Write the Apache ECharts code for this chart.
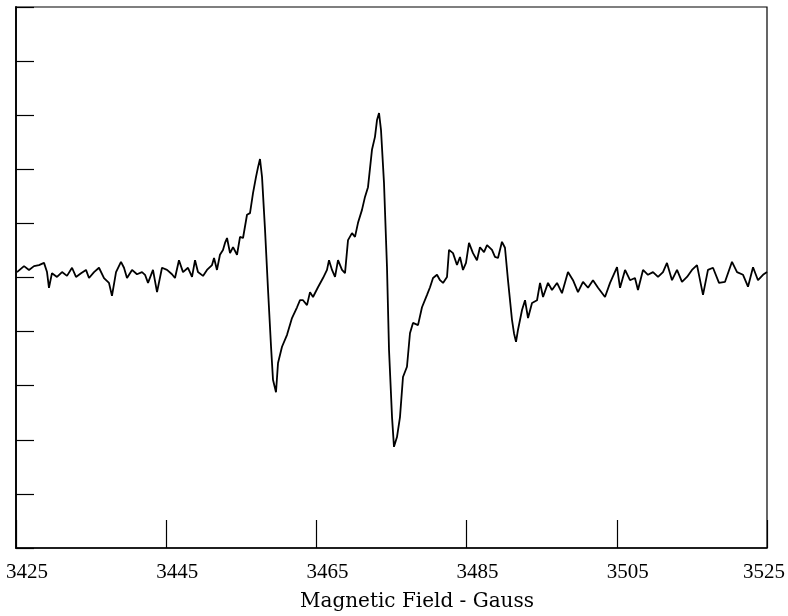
<!DOCTYPE html>
<html>
<head>
<meta charset="utf-8">
<script src="https://cdn.jsdelivr.net/npm/echarts@6/dist/echarts.min.js"></script>
<style>html,body{margin:0;padding:0;background:#fff}#c{width:788px;height:616px}</style>
</head>
<body>
<div id="c"></div>
<script>
// Magnetic field (Gauss)
const field = [3425.13,3426.07,3426.73,3427.40,3428.06,3428.73,3429.13,3429.39,3429.79,3430.46,3431.13,3431.79,3432.46,3432.99,3433.66,3434.32,3434.72,3435.39,3436.05,3436.72,3437.38,3437.78,3438.32,3438.98,3439.38,3439.78,3440.45,3441.11,3441.78,3442.18,3442.58,3443.24,3443.78,3444.44,3445.11,3445.77,3446.17,3446.70,3447.24,3447.90,3448.44,3448.84,3449.23,3449.90,3450.43,3451.10,3451.37,3451.76,3452.16,3452.56,3452.83,3453.10,3453.50,3453.90,3454.43,3454.83,3455.23,3455.76,3456.16,3456.56,3456.96,3457.23,3457.49,3457.76,3458.16,3458.56,3458.96,3459.22,3459.62,3459.89,3460.42,3461.09,3461.75,3462.42,3462.82,3463.22,3463.75,3464.15,3464.55,3465.21,3465.88,3466.41,3466.68,3467.08,3467.48,3467.88,3468.41,3468.81,3469.21,3469.74,3470.14,3470.54,3471.07,3471.47,3471.87,3472.40,3472.80,3473.07,3473.34,3473.60,3474.00,3474.40,3474.67,3475.07,3475.33,3475.73,3476.13,3476.53,3477.06,3477.46,3477.86,3478.53,3479.06,3479.73,3480.13,3480.53,3481.06,3481.46,3481.86,3482.39,3482.66,3483.19,3483.72,3484.12,3484.52,3484.92,3485.32,3485.85,3486.38,3486.78,3487.32,3487.72,3488.38,3488.78,3489.18,3489.71,3490.11,3490.51,3491.05,3491.31,3491.58,3491.84,3492.38,3492.78,3493.18,3493.71,3494.38,3494.78,3495.18,3495.84,3496.37,3497.04,3497.70,3498.50,3499.17,3499.83,3500.50,3501.17,3501.83,3502.50,3503.43,3504.10,3505.03,3505.43,3506.10,3506.76,3507.42,3507.82,3508.49,3509.15,3509.82,3510.49,3511.15,3511.68,3512.35,3513.02,3513.68,3514.35,3515.01,3515.68,3516.48,3517.14,3517.81,3518.61,3519.41,3520.34,3521.01,3521.81,3522.47,3523.14,3523.80,3524.47,3525.00];
// EPR signal (arbitrary units)
const signal = [1.0,2.1,1.4,2.1,2.3,2.7,1.0,-1.9,0.8,0.1,1.0,0.3,1.8,0.1,0.8,1.4,-0.1,1.0,1.8,-0.1,-1.0,-3.4,1.0,2.9,1.8,-0.1,1.4,0.6,1.0,0.5,-1.0,1.4,-2.7,1.8,1.4,0.6,-0.1,3.2,1.0,1.8,0.1,3.2,1.0,0.3,1.4,2.3,3.6,1.4,4.2,5.1,6.4,7.3,4.5,5.6,4.2,7.5,7.3,11.6,11.9,15.6,18.6,20.4,21.9,18.6,8.8,-2.3,-12.8,-18.9,-21.2,-15.8,-12.8,-10.6,-7.5,-5.5,-4.2,-4.2,-5.1,-2.7,-3.6,-1.8,-0.1,1.4,3.2,1.4,0.1,3.2,1.4,0.8,6.9,8.2,7.5,10.1,12.5,14.9,16.7,23.6,26.0,29.1,30.4,27.3,17.5,1.9,-13.4,-25.8,-31.3,-29.5,-25.8,-18.4,-16.5,-10.3,-8.4,-8.8,-5.5,-3.2,-1.8,-0.1,0.5,-0.5,-1.0,0.1,5.1,4.5,2.3,3.8,1.4,2.7,6.4,4.5,3.2,5.6,4.7,6.0,5.1,3.8,3.6,6.6,5.5,-0.5,-7.9,-10.3,-11.9,-9.7,-6.0,-4.2,-7.5,-4.7,-4.2,-1.0,-3.6,-1.0,-2.3,-1.0,-2.9,1.0,-0.5,-2.7,-0.8,-1.9,-0.5,-1.9,-3.6,-1.0,1.9,-1.9,1.4,-0.5,-0.1,-2.3,1.4,0.5,1.0,0.1,1.0,2.7,-0.5,1.4,-0.8,0.1,1.4,2.3,-3.2,1.4,1.8,-1.0,-0.8,2.9,1.0,0.5,-1.7,1.9,-0.5,0.5,1.0];
const xTicks = [3425, 3445, 3465, 3485, 3505, 3525];
const xTitle = 'Magnetic Field - Gauss';

const lastTick = xTicks[xTicks.length - 1];
const chart = echarts.init(document.getElementById('c'), null, {renderer: 'canvas'});
chart.setOption({
  animation: false,
  backgroundColor: '#ffffff',
  grid: {left: 16, right: 21, top: 7, bottom: 68, outerBoundsMode: 'none', containLabel: false,
         show: true, borderColor: '#000', borderWidth: 1.2, backgroundColor: 'transparent'},
  xAxis: {
    type: 'value', min: xTicks[0], max: lastTick, interval: 20,
    axisLine: {show: true, onZero: false, lineStyle: {color: '#000', width: 1.5}},
    axisTick: {show: true, inside: true, length: 28, lineStyle: {color: '#000', width: 1.2}},
    axisLabel: {show: true, margin: 14, color: '#000', fontFamily: 'Liberation Serif', fontSize: 21,
                showMinLabel: true, showMaxLabel: true,
                formatter: v => (v === lastTick ? '{e|' + v + '}' : '{m|' + v + '}'),
                rich: {
                  m: {fontFamily: 'Liberation Serif', fontSize: 21, color: '#000', padding: [0, 0, 0, 22]},
                  e: {fontFamily: 'Liberation Serif', fontSize: 21, color: '#000', padding: [0, 6, 0, 0]}
                }},
    splitLine: {show: false}
  },
  yAxis: {
    type: 'value', min: -50, max: 50, interval: 10,
    axisLine: {show: true, onZero: false, lineStyle: {color: '#000', width: 1.8}},
    axisTick: {show: true, inside: true, length: 18, lineStyle: {color: '#000', width: 1.2}},
    axisLabel: {show: false},
    splitLine: {show: false}
  },
  graphic: [{
    type: 'text', left: 300, top: 592,
    style: {text: xTitle, fill: '#000', font: '20px "DejaVu Serif"'}
  }],
  series: [{
    type: 'line',
    data: field.map((f, i) => [f, signal[i]]),
    showSymbol: false,
    lineStyle: {color: '#000', width: 1.8},
    smooth: false
  }]
});
</script>
</body>
</html>
